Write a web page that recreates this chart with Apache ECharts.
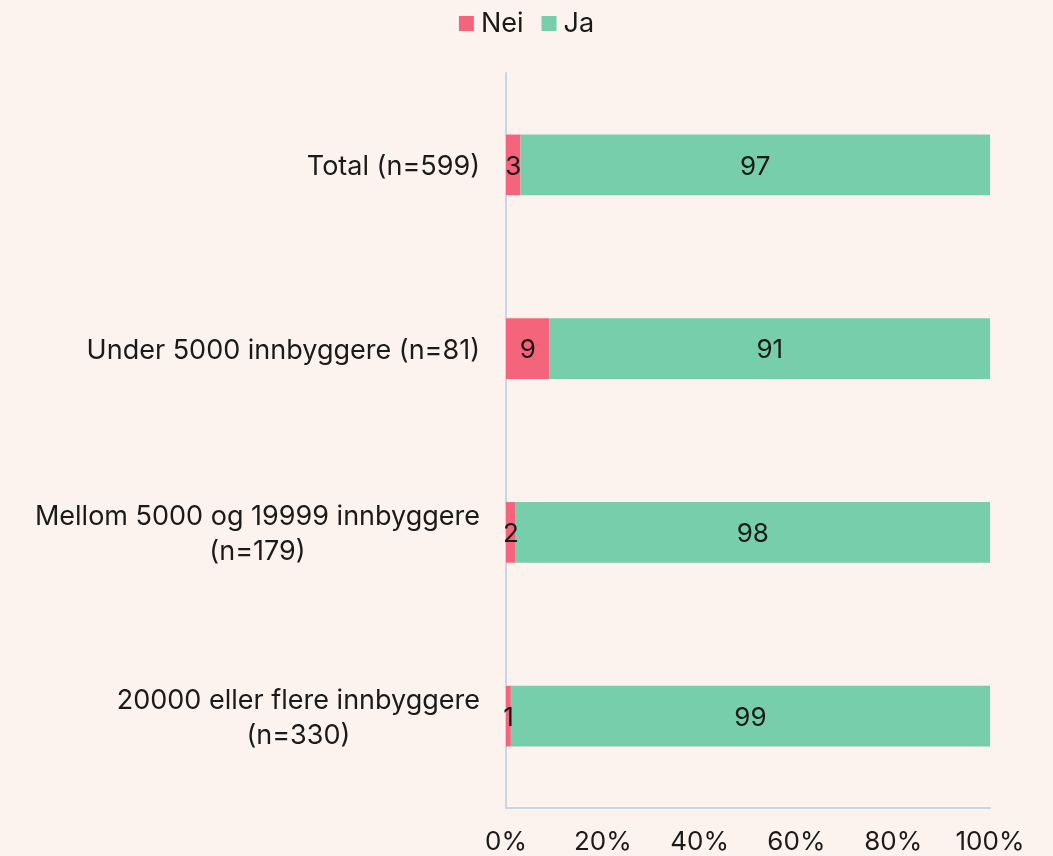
<!DOCTYPE html>
<html>
<head>
<meta charset="utf-8">
<script src="https://cdn.jsdelivr.net/npm/echarts@6/dist/echarts.min.js"></script>
<style>
  html, body { margin: 0; padding: 0; background: #fcf3ee; }
  #chart { width: 1053px; height: 856px; }
</style>
</head>
<body>
<div id="chart"></div>
<script>
// categories top to bottom
var categories = [
  'Total (n=599)',
  'Under 5000 innbyggere (n=81)',
  'Mellom 5000 og 19999 innbyggere\n(n=179)',
  '20000 eller flere innbyggere\n(n=330)'
]
var neiValues = [3, 9, 2, 1]
var jaValues = [97, 91, 98, 99]
var xTicks = [0, 20, 40, 60, 80, 100]

var font = 'Inter, "Noto Sans", sans-serif'
var textColor = '#1a1a1a'
var axisColor = '#c6d6e5'
var fs = 27

var chart = echarts.init(document.getElementById('chart'))
chart.setOption({
  backgroundColor: '#fcf3ee',
  textStyle: { fontFamily: font, color: textColor },
  legend: {
    top: 5,
    left: 'center',
    itemWidth: 15,
    itemHeight: 15,
    itemGap: 18,
    icon: 'rect',
    textStyle: { fontSize: fs, color: textColor, fontFamily: font, padding: [0, 0, 0, 2] },
    data: ['Nei', 'Ja']
  },
  grid: {
    left: 506,
    right: 63,
    top: 73,
    bottom: 48,
    containLabel: false
  },
  xAxis: {
    type: 'value',
    min: xTicks[0],
    max: xTicks[xTicks.length - 1],
    interval: 20,
    splitLine: { show: false },
    axisTick: { show: false },
    axisLine: { show: true, lineStyle: { color: axisColor, width: 2 } },
    axisLabel: {
      formatter: '{value}%',
      fontSize: fs - 1,
      color: textColor,
      fontFamily: font,
      margin: 21
    }
  },
  yAxis: {
    type: 'category',
    inverse: true,
    data: categories,
    axisTick: { show: false },
    axisLine: { show: true, lineStyle: { color: axisColor, width: 2 } },
    axisLabel: {
      margin: 26,
      fontSize: fs,
      color: textColor,
      fontFamily: font,
      padding: [4, 0, 0, 0],
      formatter: function (v) {
        return v.split('\n').map(function (s) { return '{c|' + s + '}' }).join('\n')
      },
      rich: {
        c: { align: 'center', fontSize: fs, lineHeight: 35, color: textColor, fontFamily: font }
      }
    }
  },
  series: [
    {
      name: 'Nei',
      type: 'bar',
      stack: 'total',
      barWidth: '33%',
      data: neiValues,
      itemStyle: { color: '#f4647a' },
      label: { show: true, position: 'inside', fontSize: fs - 1, color: textColor, fontFamily: font, offset: [0, 2] }
    },
    {
      name: 'Ja',
      type: 'bar',
      stack: 'total',
      barWidth: '33%',
      data: jaValues,
      itemStyle: { color: '#76cfaa' },
      label: { show: true, position: 'inside', fontSize: fs - 1, color: textColor, fontFamily: font, offset: [0, 2] }
    }
  ]
})
</script>
</body>
</html>
